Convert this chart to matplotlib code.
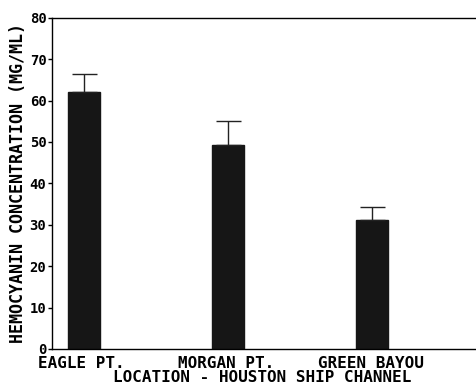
import matplotlib
matplotlib.use("Agg")
import matplotlib.pyplot as plt
import numpy as np

locations = ["EAGLE PT.", "MORGAN PT.", "GREEN BAYOU"]
hemocyanin = [62.0, 49.3, 31.1]
err_upper = [4.3, 5.8, 3.2]
y_ticks = [0, 10, 20, 30, 40, 50, 60, 70, 80]

plt.rcParams["font.family"] = ["DejaVu Sans Mono"]

fig = plt.figure(figsize=(4.77, 3.86), dpi=100)
ax = fig.add_axes([0.109, 0.096, 0.891, 0.858])

x = np.arange(1, len(locations) + 1)
ax.bar(x, hemocyanin, width=0.22, color="#161616", edgecolor="#161616")
ax.errorbar(x, hemocyanin, yerr=[np.zeros(len(x)), err_upper], fmt="none",
            ecolor="#222222", elinewidth=1.0, capsize=9, capthick=1.0)

ax.set_xlim(0.778, 3.73)
ax.set_ylim(0, 80)
ax.set_yticks(y_ticks)
ax.set_yticklabels([str(v) for v in y_ticks], fontsize=10, fontweight="bold")
ax.tick_params(axis="y", direction="out", length=3, pad=1, width=1)
ax.set_xticks([])

ax.spines["right"].set_visible(False)
for spine in ["left", "bottom", "top"]:
    ax.spines[spine].set_linewidth(1.0)

label_x = [38, 178, 318]
for lx, name in zip(label_x, locations):
    fig.text(lx / 477, 1 - 363 / 386, name, fontsize=11.5, fontweight="bold",
             ha="left", va="center")

fig.text(262 / 477, 1 - 377 / 386, "LOCATION - HOUSTON SHIP CHANNEL", fontsize=11.5,
         fontweight="bold", ha="center", va="center")
fig.text(18 / 477, 1 - 183 / 386, "HEMOCYANIN CONCENTRATION (MG/ML)", fontsize=12,
         fontweight="bold", rotation=90, ha="center", va="center")

fig.savefig("out.png", dpi=100)
